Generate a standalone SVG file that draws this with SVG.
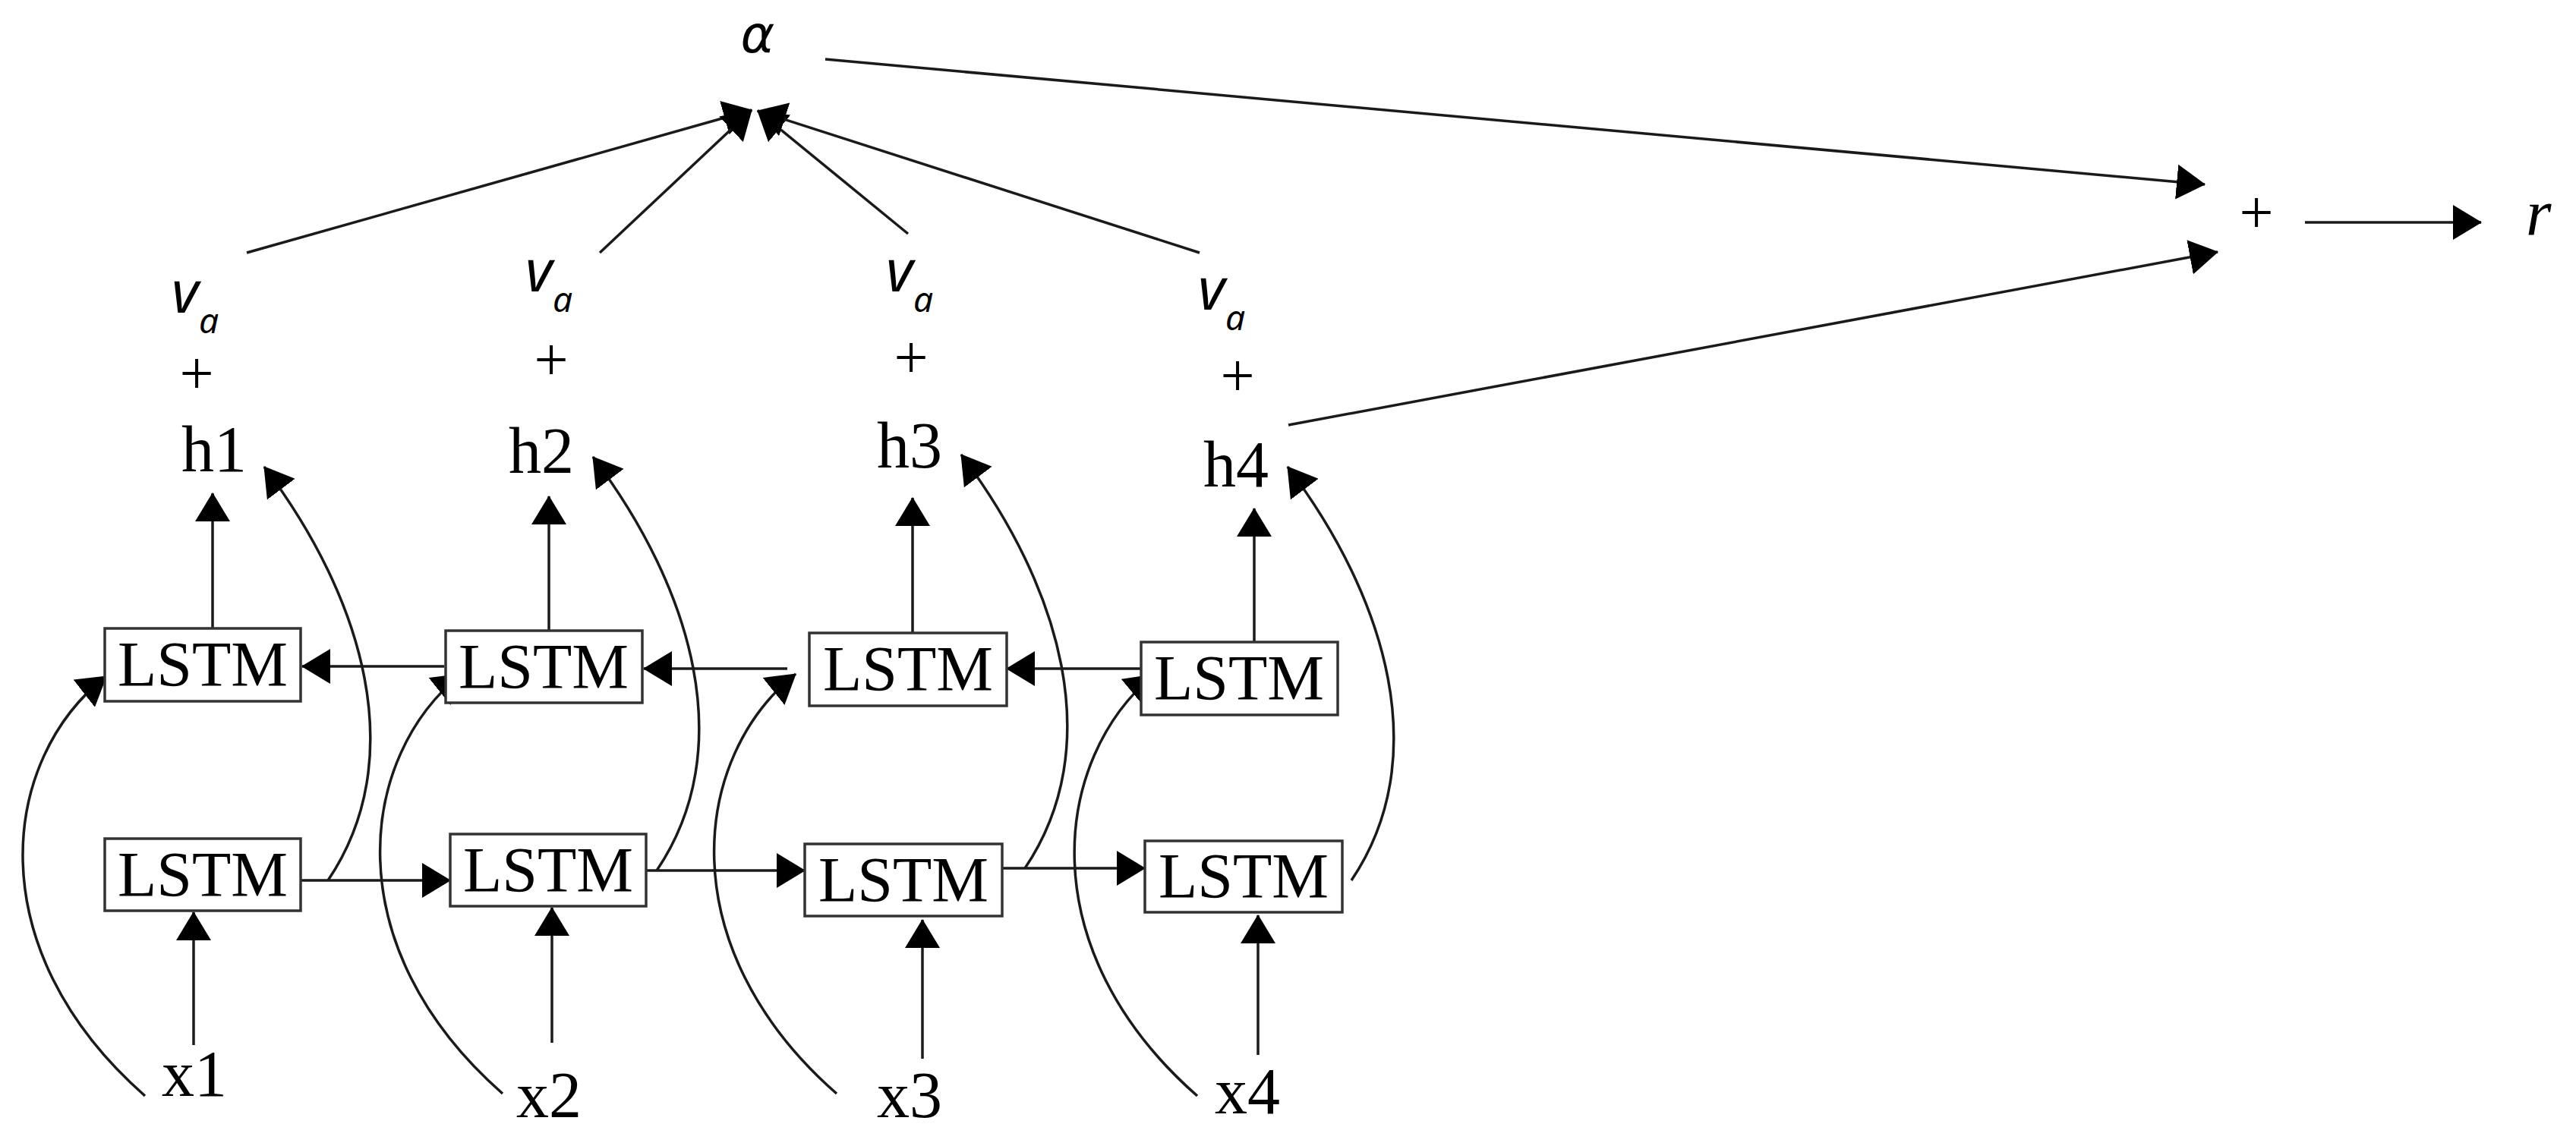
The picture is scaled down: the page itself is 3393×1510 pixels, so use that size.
<svg xmlns="http://www.w3.org/2000/svg" width="3393" height="1510" viewBox="0 0 3393 1510">
  <style>
    .ln { fill: none; stroke: #1a1a1a; stroke-width: 3.5; }
    .box { fill: #ffffff; stroke: #333333; stroke-width: 3.5; }
    .serif { font-family: "Liberation Serif", "Times New Roman", serif; fill: #000; }
    .lstm { font-size: 84px; text-anchor: middle; }
    .lbl { font-size: 86px; text-anchor: middle; }
    .plus { font-family: "Liberation Serif", serif; font-size: 80px; text-anchor: middle; fill: #000; }
    .math { font-family: "Noto Sans", "DejaVu Sans", sans-serif; font-style: italic; fill: #000; }
    .greek { font-family: "DejaVu Sans", "Liberation Sans", sans-serif; font-style: italic; fill: #000; }
  </style>
  <defs>
    <marker id="ah" viewBox="0 0 38 46" refX="37" refY="23" markerWidth="38" markerHeight="46" orient="auto" markerUnits="userSpaceOnUse">
      <path d="M0,0 L38,23 L0,46 Z" fill="#000"/>
    </marker>
  </defs>
  <rect x="0" y="0" width="3393" height="1510" fill="#ffffff"/>

  <g id="connectors">
    <path class="ln" d="M325,333 L990,145" marker-end="url(#ah)"/>
    <path class="ln" d="M790,333 L990,145" marker-end="url(#ah)"/>
    <path class="ln" d="M1196,308 L998,146" marker-end="url(#ah)"/>
    <path class="ln" d="M1580,333 L998,146" marker-end="url(#ah)"/>
    <path class="ln" d="M1087,78 L2904,243" marker-end="url(#ah)"/>
    <path class="ln" d="M1697,560 L2921,332" marker-end="url(#ah)"/>
    <path class="ln" d="M3036,293 L3268,293" marker-end="url(#ah)"/>
    <path class="ln" d="M280,828 L280,650" marker-end="url(#ah)"/>
    <path class="ln" d="M723,831 L723,654" marker-end="url(#ah)"/>
    <path class="ln" d="M1202,834 L1202,656" marker-end="url(#ah)"/>
    <path class="ln" d="M1652,846 L1652,670" marker-end="url(#ah)"/>
    <path class="ln" d="M255,1377 L255,1202" marker-end="url(#ah)"/>
    <path class="ln" d="M727,1374 L727,1196" marker-end="url(#ah)"/>
    <path class="ln" d="M1215,1395 L1215,1212" marker-end="url(#ah)"/>
    <path class="ln" d="M1657,1390 L1657,1206" marker-end="url(#ah)"/>
    <path class="ln" d="M396,1160 L593,1160" marker-end="url(#ah)"/>
    <path class="ln" d="M851,1147 L1060,1147" marker-end="url(#ah)"/>
    <path class="ln" d="M1320,1144 L1508,1144" marker-end="url(#ah)"/>
    <path class="ln" d="M585,878 L398,878" marker-end="url(#ah)"/>
    <path class="ln" d="M1037,881 L848,881" marker-end="url(#ah)"/>
    <path class="ln" d="M1514,881 L1326,881" marker-end="url(#ah)"/>
    <path class="ln" d="M191,1444 C-30,1250 0,1000 140,891" marker-end="url(#ah)"/>
    <path class="ln" d="M662,1441 C441,1247 471,997 608,888" marker-end="url(#ah)"/>
    <path class="ln" d="M1102,1441 C881,1247 911,997 1048,888" marker-end="url(#ah)"/>
    <path class="ln" d="M1577,1444 C1356,1250 1386,1000 1520,889" marker-end="url(#ah)"/>
    <path class="ln" d="M432,1160 C540,1000 480,790 348,615" marker-end="url(#ah)"/>
    <path class="ln" d="M865,1147 C973,987 913,777 781,602" marker-end="url(#ah)"/>
    <path class="ln" d="M1350,1144 C1458,984 1398,774 1266,599" marker-end="url(#ah)"/>
    <path class="ln" d="M1780,1160 C1888,1000 1828,790 1696,615" marker-end="url(#ah)"/>
  </g>

  <g id="lstm-top-1"><rect class="box" x="138" y="828" width="258" height="96"/><text class="serif lstm" x="267" y="904">LSTM</text></g>
  <g id="lstm-top-2"><rect class="box" x="587" y="831" width="259" height="95"/><text class="serif lstm" x="716" y="907">LSTM</text></g>
  <g id="lstm-top-3"><rect class="box" x="1066" y="834" width="260" height="96"/><text class="serif lstm" x="1196" y="910">LSTM</text></g>
  <g id="lstm-top-4"><rect class="box" x="1503" y="846" width="259" height="96"/><text class="serif lstm" x="1632" y="922">LSTM</text></g>

  <g id="lstm-bot-1"><rect class="box" x="138" y="1105" width="258" height="95"/><text class="serif lstm" x="267" y="1181">LSTM</text></g>
  <g id="lstm-bot-2"><rect class="box" x="593" y="1099" width="258" height="95"/><text class="serif lstm" x="722" y="1175">LSTM</text></g>
  <g id="lstm-bot-3"><rect class="box" x="1060" y="1112" width="260" height="95"/><text class="serif lstm" x="1190" y="1188">LSTM</text></g>
  <g id="lstm-bot-4"><rect class="box" x="1508" y="1108" width="260" height="94"/><text class="serif lstm" x="1638" y="1183">LSTM</text></g>

  <g id="x1"><text class="serif lbl" x="256" y="1444">x1</text></g>
  <g id="x2"><text class="serif lbl" x="723" y="1472">x2</text></g>
  <g id="x3"><text class="serif lbl" x="1198" y="1472">x3</text></g>
  <g id="x4"><text class="serif lbl" x="1643" y="1467">x4</text></g>

  <g id="h1"><text class="serif lbl" x="282" y="621">h1</text></g>
  <g id="h2"><text class="serif lbl" x="713" y="623">h2</text></g>
  <g id="h3"><text class="serif lbl" x="1198" y="616">h3</text></g>
  <g id="h4"><text class="serif lbl" x="1628" y="641">h4</text></g>

  <g id="va1"><text class="math" x="226" y="412" font-size="76">v</text><text class="math" x="262" y="439" font-size="46">a</text><text class="plus" x="259" y="519">+</text></g>
  <g id="va2"><text class="math" x="692" y="384" font-size="76">v</text><text class="math" x="728" y="411" font-size="46">a</text><text class="plus" x="726" y="501">+</text></g>
  <g id="va3"><text class="math" x="1167" y="384" font-size="76">v</text><text class="math" x="1203" y="411" font-size="46">a</text><text class="plus" x="1200" y="498">+</text></g>
  <g id="va4"><text class="math" x="1578" y="408" font-size="76">v</text><text class="math" x="1614" y="435" font-size="46">a</text><text class="plus" x="1630" y="522">+</text></g>

  <g id="alpha"><text class="greek" x="998" y="69" font-size="68" text-anchor="middle">α</text></g>
  <g id="sum"><text class="plus" x="2972" y="307">+</text></g>
  <g id="r"><text class="serif" x="3327" y="310" font-size="86" font-style="italic">r</text></g>
</svg>
